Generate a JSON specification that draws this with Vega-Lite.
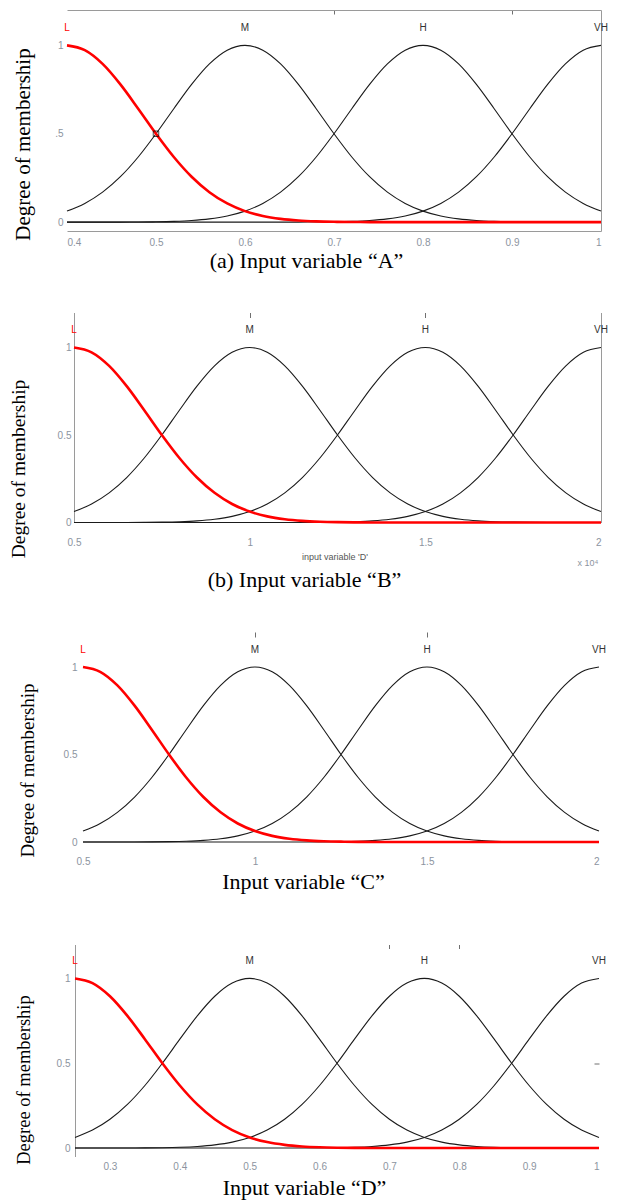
{
  "$schema": "https://vega.github.io/schema/vega-lite/v6.json",
  "padding": {"left": 8, "top": 9, "right": 5, "bottom": 5},
  "background": "white",
  "config": {
    "view": {"stroke": null},
    "axis": {
      "grid": false,
      "ticks": false,
      "labelFont": "Liberation Sans",
      "labelFontSize": 10,
      "labelColor": "#8c94a0",
      "titleFont": "Liberation Serif",
      "titleFontWeight": "normal",
      "titleColor": "#000000",
      "domainColor": "#9a9a9a",
      "tickColor": "#707070"
    }
  },
  "datasets": {
    "A": [
      {"x": 0.4, "L": 1, "M": 0.0625, "H": 0, "VH": 0},
      {"x": 0.42, "L": 0.9727, "M": 0.1058, "H": 0, "VH": 0},
      {"x": 0.44, "L": 0.895, "M": 0.1696, "H": 0.0001, "VH": 0},
      {"x": 0.46, "L": 0.7792, "M": 0.257, "H": 0.0003, "VH": 0},
      {"x": 0.48, "L": 0.6417, "M": 0.3686, "H": 0.0008, "VH": 0},
      {"x": 0.5, "L": 0.5, "M": 0.5, "H": 0.002, "VH": 0},
      {"x": 0.52, "L": 0.3686, "M": 0.6417, "H": 0.0044, "VH": 0},
      {"x": 0.54, "L": 0.257, "M": 0.7792, "H": 0.0092, "VH": 0},
      {"x": 0.56, "L": 0.1696, "M": 0.895, "H": 0.0185, "VH": 0},
      {"x": 0.58, "L": 0.1058, "M": 0.9727, "H": 0.0349, "VH": 0},
      {"x": 0.6, "L": 0.0625, "M": 1, "H": 0.0625, "VH": 0},
      {"x": 0.62, "L": 0.0349, "M": 0.9727, "H": 0.1058, "VH": 0},
      {"x": 0.64, "L": 0.0185, "M": 0.895, "H": 0.1696, "VH": 0.0001},
      {"x": 0.66, "L": 0.0092, "M": 0.7792, "H": 0.257, "VH": 0.0003},
      {"x": 0.68, "L": 0.0044, "M": 0.6417, "H": 0.3686, "VH": 0.0008},
      {"x": 0.7, "L": 0.002, "M": 0.5, "H": 0.5, "VH": 0.002},
      {"x": 0.72, "L": 0.0008, "M": 0.3686, "H": 0.6417, "VH": 0.0044},
      {"x": 0.74, "L": 0.0003, "M": 0.257, "H": 0.7792, "VH": 0.0092},
      {"x": 0.76, "L": 0.0001, "M": 0.1696, "H": 0.895, "VH": 0.0185},
      {"x": 0.78, "L": 0, "M": 0.1058, "H": 0.9727, "VH": 0.0349},
      {"x": 0.8, "L": 0, "M": 0.0625, "H": 1, "VH": 0.0625},
      {"x": 0.82, "L": 0, "M": 0.0349, "H": 0.9727, "VH": 0.1058},
      {"x": 0.84, "L": 0, "M": 0.0185, "H": 0.895, "VH": 0.1696},
      {"x": 0.86, "L": 0, "M": 0.0092, "H": 0.7792, "VH": 0.257},
      {"x": 0.88, "L": 0, "M": 0.0044, "H": 0.6417, "VH": 0.3686},
      {"x": 0.9, "L": 0, "M": 0.002, "H": 0.5, "VH": 0.5},
      {"x": 0.92, "L": 0, "M": 0.0008, "H": 0.3686, "VH": 0.6417},
      {"x": 0.94, "L": 0, "M": 0.0003, "H": 0.257, "VH": 0.7792},
      {"x": 0.96, "L": 0, "M": 0.0001, "H": 0.1696, "VH": 0.895},
      {"x": 0.98, "L": 0, "M": 0, "H": 0.1058, "VH": 0.9727},
      {"x": 1.0, "L": 0, "M": 0, "H": 0.0625, "VH": 1}
    ],
    "BC": [
      {"x": 0.5, "L": 1, "M": 0.0625, "H": 0, "VH": 0},
      {"x": 0.55, "L": 0.9727, "M": 0.1058, "H": 0, "VH": 0},
      {"x": 0.6, "L": 0.895, "M": 0.1696, "H": 0.0001, "VH": 0},
      {"x": 0.65, "L": 0.7792, "M": 0.257, "H": 0.0003, "VH": 0},
      {"x": 0.7, "L": 0.6417, "M": 0.3686, "H": 0.0008, "VH": 0},
      {"x": 0.75, "L": 0.5, "M": 0.5, "H": 0.002, "VH": 0},
      {"x": 0.8, "L": 0.3686, "M": 0.6417, "H": 0.0044, "VH": 0},
      {"x": 0.85, "L": 0.257, "M": 0.7792, "H": 0.0092, "VH": 0},
      {"x": 0.9, "L": 0.1696, "M": 0.895, "H": 0.0185, "VH": 0},
      {"x": 0.95, "L": 0.1058, "M": 0.9727, "H": 0.0349, "VH": 0},
      {"x": 1.0, "L": 0.0625, "M": 1, "H": 0.0625, "VH": 0},
      {"x": 1.05, "L": 0.0349, "M": 0.9727, "H": 0.1058, "VH": 0},
      {"x": 1.1, "L": 0.0185, "M": 0.895, "H": 0.1696, "VH": 0.0001},
      {"x": 1.15, "L": 0.0092, "M": 0.7792, "H": 0.257, "VH": 0.0003},
      {"x": 1.2, "L": 0.0044, "M": 0.6417, "H": 0.3686, "VH": 0.0008},
      {"x": 1.25, "L": 0.002, "M": 0.5, "H": 0.5, "VH": 0.002},
      {"x": 1.3, "L": 0.0008, "M": 0.3686, "H": 0.6417, "VH": 0.0044},
      {"x": 1.35, "L": 0.0003, "M": 0.257, "H": 0.7792, "VH": 0.0092},
      {"x": 1.4, "L": 0.0001, "M": 0.1696, "H": 0.895, "VH": 0.0185},
      {"x": 1.45, "L": 0, "M": 0.1058, "H": 0.9727, "VH": 0.0349},
      {"x": 1.5, "L": 0, "M": 0.0625, "H": 1, "VH": 0.0625},
      {"x": 1.55, "L": 0, "M": 0.0349, "H": 0.9727, "VH": 0.1058},
      {"x": 1.6, "L": 0, "M": 0.0185, "H": 0.895, "VH": 0.1696},
      {"x": 1.65, "L": 0, "M": 0.0092, "H": 0.7792, "VH": 0.257},
      {"x": 1.7, "L": 0, "M": 0.0044, "H": 0.6417, "VH": 0.3686},
      {"x": 1.75, "L": 0, "M": 0.002, "H": 0.5, "VH": 0.5},
      {"x": 1.8, "L": 0, "M": 0.0008, "H": 0.3686, "VH": 0.6417},
      {"x": 1.85, "L": 0, "M": 0.0003, "H": 0.257, "VH": 0.7792},
      {"x": 1.9, "L": 0, "M": 0.0001, "H": 0.1696, "VH": 0.895},
      {"x": 1.95, "L": 0, "M": 0, "H": 0.1058, "VH": 0.9727},
      {"x": 2.0, "L": 0, "M": 0, "H": 0.0625, "VH": 1}
    ],
    "D": [
      {"x": 0.25, "L": 1, "M": 0.0625, "H": 0, "VH": 0},
      {"x": 0.275, "L": 0.9727, "M": 0.1058, "H": 0, "VH": 0},
      {"x": 0.3, "L": 0.895, "M": 0.1696, "H": 0.0001, "VH": 0},
      {"x": 0.325, "L": 0.7792, "M": 0.257, "H": 0.0003, "VH": 0},
      {"x": 0.35, "L": 0.6417, "M": 0.3686, "H": 0.0008, "VH": 0},
      {"x": 0.375, "L": 0.5, "M": 0.5, "H": 0.002, "VH": 0},
      {"x": 0.4, "L": 0.3686, "M": 0.6417, "H": 0.0044, "VH": 0},
      {"x": 0.425, "L": 0.257, "M": 0.7792, "H": 0.0092, "VH": 0},
      {"x": 0.45, "L": 0.1696, "M": 0.895, "H": 0.0185, "VH": 0},
      {"x": 0.475, "L": 0.1058, "M": 0.9727, "H": 0.0349, "VH": 0},
      {"x": 0.5, "L": 0.0625, "M": 1, "H": 0.0625, "VH": 0},
      {"x": 0.525, "L": 0.0349, "M": 0.9727, "H": 0.1058, "VH": 0},
      {"x": 0.55, "L": 0.0185, "M": 0.895, "H": 0.1696, "VH": 0.0001},
      {"x": 0.575, "L": 0.0092, "M": 0.7792, "H": 0.257, "VH": 0.0003},
      {"x": 0.6, "L": 0.0044, "M": 0.6417, "H": 0.3686, "VH": 0.0008},
      {"x": 0.625, "L": 0.002, "M": 0.5, "H": 0.5, "VH": 0.002},
      {"x": 0.65, "L": 0.0008, "M": 0.3686, "H": 0.6417, "VH": 0.0044},
      {"x": 0.675, "L": 0.0003, "M": 0.257, "H": 0.7792, "VH": 0.0092},
      {"x": 0.7, "L": 0.0001, "M": 0.1696, "H": 0.895, "VH": 0.0185},
      {"x": 0.725, "L": 0, "M": 0.1058, "H": 0.9727, "VH": 0.0349},
      {"x": 0.75, "L": 0, "M": 0.0625, "H": 1, "VH": 0.0625},
      {"x": 0.775, "L": 0, "M": 0.0349, "H": 0.9727, "VH": 0.1058},
      {"x": 0.8, "L": 0, "M": 0.0185, "H": 0.895, "VH": 0.1696},
      {"x": 0.825, "L": 0, "M": 0.0092, "H": 0.7792, "VH": 0.257},
      {"x": 0.85, "L": 0, "M": 0.0044, "H": 0.6417, "VH": 0.3686},
      {"x": 0.875, "L": 0, "M": 0.002, "H": 0.5, "VH": 0.5},
      {"x": 0.9, "L": 0, "M": 0.0008, "H": 0.3686, "VH": 0.6417},
      {"x": 0.925, "L": 0, "M": 0.0003, "H": 0.257, "VH": 0.7792},
      {"x": 0.95, "L": 0, "M": 0.0001, "H": 0.1696, "VH": 0.895},
      {"x": 0.975, "L": 0, "M": 0, "H": 0.1058, "VH": 0.9727},
      {"x": 1.0, "L": 0, "M": 0, "H": 0.0625, "VH": 1}
    ],
    "labelsA": [{"label": "L", "x": 0.4}, {"label": "M", "x": 0.6}, {"label": "H", "x": 0.8}, {"label": "VH", "x": 1.0}],
    "labelsBC": [{"label": "L", "x": 0.5}, {"label": "M", "x": 1.0}, {"label": "H", "x": 1.5}, {"label": "VH", "x": 2.0}],
    "labelsD": [{"label": "L", "x": 0.25}, {"label": "M", "x": 0.5}, {"label": "H", "x": 0.75}, {"label": "VH", "x": 1.0}]
  },
  "spacing": 40.5,
  "vconcat": [
    {
      "width": 534,
      "height": 221,
      "resolve": {"axis": {"x": "independent", "y": "independent"}},
      "layer": [
        {
          "data": {"name": "A"},
          "transform": [{"fold": ["M", "H", "VH"], "as": ["set", "mu"]}],
          "mark": {"type": "line", "interpolate": "monotone", "color": "#1a1a1a", "strokeWidth": 1.1},
          "encoding": {
            "x": {"field": "x", "type": "quantitative", "scale": {"domain": [0.4, 1], "nice": false, "zero": false},
              "axis": {"orient": "bottom", "values": [0.4, 0.5, 0.6, 0.7, 0.8, 0.9, 1], "format": "~g", "domain": true, "labelPadding": 6,
                "title": "(a) Input variable “A”", "titleFontSize": 22, "titlePadding": 3, "titleX": 239}},
            "y": {"field": "mu", "type": "quantitative", "scale": {"domain": [-0.05, 1.2], "nice": false, "zero": false},
              "axis": {"orient": "left", "values": [0, 0.5, 1], "format": "~g", "labelExpr": "datum.value == 0.5 ? '.5' : datum.label", "domain": false, "labelPadding": 4,
                "title": "Degree of membership", "titleFontSize": 21, "titlePadding": 21, "titleY": 134}},
            "detail": {"field": "set"}
          }
        },
        {
          "data": {"name": "A"},
          "mark": {"type": "line", "interpolate": "monotone", "color": "#ff0000", "strokeWidth": 2.6},
          "encoding": {
            "x": {"field": "x", "type": "quantitative", "axis": {"orient": "top", "values": [0.7, 0.9], "labels": false, "ticks": true, "tickSize": -4, "domain": true, "title": null}},
            "y": {"field": "L", "type": "quantitative", "axis": {"orient": "right", "labels": false, "ticks": false, "domain": true, "title": null}}
          }
        },
        {
          "data": {"name": "labelsA"},
          "mark": {"type": "text", "font": "Liberation Sans", "fontSize": 10},
          "encoding": {
            "x": {"field": "x", "type": "quantitative", "axis": null},
            "y": {"datum": 1.1, "axis": null},
            "text": {"field": "label"},
            "color": {"condition": {"test": "datum.label === 'L'", "value": "#ff0000"}, "value": "#333333"}
          }
        },
        {
          "data": {"values": [{"x": 0.5, "mu": 0.5}]},
          "mark": {"type": "point", "shape": "square", "size": 30, "filled": false, "color": "#000000", "strokeWidth": 1},
          "encoding": {
            "x": {"field": "x", "type": "quantitative", "axis": null},
            "y": {"field": "mu", "type": "quantitative", "axis": null}
          }
        }
      ]
    },
    {
      "width": 534,
      "height": 210,
      "resolve": {"axis": {"x": "independent", "y": "independent"}},
      "layer": [
        {
          "data": {"name": "BC"},
          "transform": [{"fold": ["M", "H", "VH"], "as": ["set", "mu"]}],
          "mark": {"type": "line", "interpolate": "monotone", "color": "#1a1a1a", "strokeWidth": 1.1},
          "encoding": {
            "x": {"field": "x", "type": "quantitative", "scale": {"domain": [0.4801, 2], "nice": false, "zero": false},
              "axis": {"orient": "bottom", "values": [0.5, 1, 1.5, 2], "format": "~g", "domain": false, "labelPadding": 15,
                "title": "(b) Input variable “B”", "titleFontSize": 22, "titlePadding": 22, "titleX": 237}},
            "y": {"field": "mu", "type": "quantitative", "scale": {"domain": [0, 1.2], "nice": false, "zero": false},
              "axis": {"orient": "left", "offset": -7, "values": [0, 0.5, 1], "format": "~g", "domain": true, "labelPadding": 3,
                "title": "Degree of membership", "titleFontSize": 19.5, "titlePadding": 29, "titleY": 156}},
            "detail": {"field": "set"}
          }
        },
        {
          "data": {"name": "BC"},
          "mark": {"type": "line", "interpolate": "monotone", "color": "#ff0000", "strokeWidth": 2.6},
          "encoding": {
            "x": {"field": "x", "type": "quantitative", "axis": {"orient": "top", "values": [1, 1.5], "labels": false, "ticks": true, "tickSize": -5, "domain": false, "title": null}},
            "y": {"field": "L", "type": "quantitative", "axis": {"orient": "right", "labels": false, "ticks": false, "domain": true, "title": null}}
          }
        },
        {
          "data": {"name": "labelsBC"},
          "mark": {"type": "text", "font": "Liberation Sans", "fontSize": 10},
          "encoding": {
            "x": {"field": "x", "type": "quantitative", "axis": null},
            "y": {"datum": 1.1, "axis": null},
            "text": {"field": "label"},
            "color": {"condition": {"test": "datum.label === 'L'", "value": "#ff0000"}, "value": "#333333"}
          }
        },
        {
          "data": {"values": [{}]},
          "mark": {"type": "text", "text": "input variable  'D'", "font": "Liberation Sans", "fontSize": 9, "color": "#555555"},
          "encoding": {
            "x": {"datum": 1.243, "axis": null},
            "y": {"datum": -0.196, "axis": null}
          }
        },
        {
          "data": {"values": [{}]},
          "mark": {"type": "text", "text": "x 10⁴", "font": "Liberation Sans", "fontSize": 9, "color": "#8c94a0"},
          "encoding": {
            "x": {"datum": 1.963, "axis": null},
            "y": {"datum": -0.23, "axis": null}
          }
        }
      ]
    },
    {
      "width": 532,
      "height": 210,
      "resolve": {"axis": {"x": "independent", "y": "independent"}},
      "layer": [
        {
          "data": {"name": "BC"},
          "transform": [{"fold": ["M", "H", "VH"], "as": ["set", "mu"]}],
          "mark": {"type": "line", "interpolate": "monotone", "color": "#1a1a1a", "strokeWidth": 1.1},
          "encoding": {
            "x": {"field": "x", "type": "quantitative", "scale": {"domain": [0.4535, 2], "nice": false, "zero": false},
              "axis": {"orient": "bottom", "values": [0.5, 1, 1.5, 2], "format": "~g", "domain": false, "labelPadding": 14,
                "title": "Input variable “C”", "titleFontSize": 22, "titlePadding": 5, "titleX": 236}},
            "y": {"field": "mu", "type": "quantitative", "scale": {"domain": [0, 1.2], "nice": false, "zero": false},
              "axis": {"orient": "left", "offset": -16, "values": [0, 0.5, 1], "format": "~g", "domain": false, "labelPadding": 6,
                "title": "Degree of membership", "titleFontSize": 19, "titlePadding": 26, "titleY": 138}},
            "detail": {"field": "set"}
          }
        },
        {
          "data": {"name": "BC"},
          "mark": {"type": "line", "interpolate": "monotone", "color": "#ff0000", "strokeWidth": 2.6},
          "encoding": {
            "x": {"field": "x", "type": "quantitative", "axis": {"orient": "top", "values": [1, 1.5], "labels": false, "ticks": true, "tickSize": -5, "domain": false, "title": null}},
            "y": {"field": "L", "type": "quantitative", "axis": null}
          }
        },
        {
          "data": {"name": "labelsBC"},
          "mark": {"type": "text", "font": "Liberation Sans", "fontSize": 10},
          "encoding": {
            "x": {"field": "x", "type": "quantitative", "axis": null},
            "y": {"datum": 1.1, "axis": null},
            "text": {"field": "label"},
            "color": {"condition": {"test": "datum.label === 'L'", "value": "#ff0000"}, "value": "#333333"}
          }
        }
      ]
    },
    {
      "width": 532,
      "height": 212,
      "title": {"text": " ", "fontSize": 4, "offset": 7},
      "resolve": {"axis": {"x": "independent", "y": "independent"}},
      "layer": [
        {
          "data": {"name": "D"},
          "transform": [{"fold": ["M", "H", "VH"], "as": ["set", "mu"]}],
          "mark": {"type": "line", "interpolate": "monotone", "color": "#1a1a1a", "strokeWidth": 1.1},
          "encoding": {
            "x": {"field": "x", "type": "quantitative", "scale": {"domain": [0.2385, 1], "nice": false, "zero": false},
              "axis": {"orient": "bottom", "values": [0.3, 0.4, 0.5, 0.6, 0.7, 0.8, 0.9, 1], "format": "~g", "domain": false, "labelPadding": 5,
                "title": "Input variable “D”", "titleFontSize": 22, "titlePadding": 6, "titleX": 237}},
            "y": {"field": "mu", "type": "quantitative", "scale": {"domain": [-0.05, 1.2], "nice": false, "zero": false},
              "axis": {"orient": "left", "offset": -8, "values": [0, 0.5, 1], "format": "~g", "domain": true, "labelPadding": 5,
                "title": "Degree of membership", "titleFontSize": 18.5, "titlePadding": 23, "titleY": 135}},
            "detail": {"field": "set"}
          }
        },
        {
          "data": {"name": "D"},
          "mark": {"type": "line", "interpolate": "monotone", "color": "#ff0000", "strokeWidth": 2.6},
          "encoding": {
            "x": {"field": "x", "type": "quantitative", "axis": {"orient": "top", "values": [0.7, 0.8], "labels": false, "ticks": true, "tickSize": -4, "domain": false, "title": null}},
            "y": {"field": "L", "type": "quantitative", "axis": {"orient": "right", "values": [0.5], "labels": false, "ticks": true, "tickSize": -5, "domain": false, "title": null}}
          }
        },
        {
          "data": {"name": "labelsD"},
          "mark": {"type": "text", "font": "Liberation Sans", "fontSize": 10},
          "encoding": {
            "x": {"field": "x", "type": "quantitative", "axis": null},
            "y": {"datum": 1.1, "axis": null},
            "text": {"field": "label"},
            "color": {"condition": {"test": "datum.label === 'L'", "value": "#ff0000"}, "value": "#333333"}
          }
        }
      ]
    }
  ]
}
